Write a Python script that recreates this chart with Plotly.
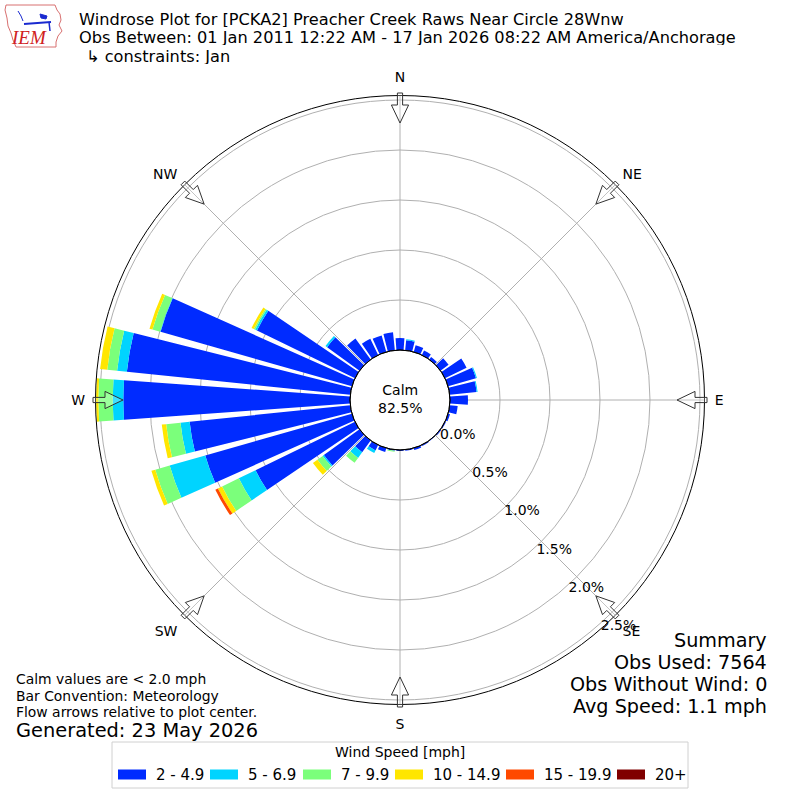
import math
import plotly.graph_objects as go

# ---------------- data ----------------
directions = list(range(0, 360, 10))
speed_labels = ["2 - 4.9", "5 - 6.9", "7 - 9.9", "10 - 14.9", "15 - 19.9", "20+"]
speed_colors = ["#002bff", "#00d4ff", "#7bff7b", "#ffe600", "#ff4900", "#800000"]

freq_2_5 = [0.12, 0.10, 0.07, 0.05, 0.03, 0.10, 0.24, 0.29, 0.27, 0.18, 0.08, 0.02,
            0.01, 0.01, 0.005, 0.01, 0.02, 0.01, 0.01, 0.01, 0.04, 0.06, 0.145, 0.44,
            1.106, 1.525, 1.615, 2.267, 2.246, 1.99, 1.09, 0.40, 0.26, 0.18, 0.17, 0.18]
freq_5_7 = [0, 0.01, 0, 0, 0, 0, 0, 0.01, 0.01, 0, 0, 0,
            0, 0, 0, 0, 0, 0, 0, 0, 0, 0.03, 0.07, 0.015,
            0.186, 0.37, 0.092, 0.106, 0.098, 0.005, 0.02, 0.02, 0, 0, 0, 0]
freq_7_10 = [0, 0, 0, 0, 0, 0, 0, 0, 0, 0, 0, 0,
             0, 0, 0, 0, 0, 0, 0, 0.01, 0, 0, 0.06, 0.065,
             0.186, 0.15, 0.144, 0.144, 0.099, 0.079, 0.015, 0, 0, 0, 0, 0]
freq_10_15 = [0, 0, 0, 0, 0, 0, 0, 0, 0, 0, 0, 0,
              0, 0, 0, 0, 0, 0, 0, 0, 0, 0, 0, 0.055,
              0.046, 0.04, 0.044, 0.023, 0.072, 0.031, 0.025, 0, 0, 0, 0, 0]
freq_15_20 = [0, 0, 0, 0, 0, 0, 0, 0, 0, 0, 0, 0,
              0, 0, 0, 0, 0, 0, 0, 0, 0, 0, 0, 0,
              0.029, 0, 0, 0, 0, 0, 0, 0, 0, 0, 0, 0]
freq_20p = [0] * 36
series = [freq_2_5, freq_5_7, freq_7_10, freq_10_15, freq_15_20, freq_20p]

compass_labels = ["N", "NE", "E", "SE", "S", "SW", "W", "NW"]
compass_angles = [0, 45, 90, 135, 180, 225, 270, 315]
radial_ticks = [0.0, 0.5, 1.0, 1.5, 2.0, 2.5]
radial_ticktext = ["0.0%", "0.5%", "1.0%", "1.5%", "2.0%", "2.5%"]

title_lines = [
    "Windrose Plot for [PCKA2] Preacher Creek Raws Near Circle 28Wnw",
    "Obs Between: 01 Jan 2011 12:22 AM - 17 Jan 2026 08:22 AM America/Anchorage",
    "↳ constraints: Jan",
]
notes_left = ["Calm values are &lt; 2.0 mph", "Bar Convention: Meteorology",
              "Flow arrows relative to plot center."]
generated = "Generated: 23 May 2026"
summary_lines = ["Summary", "Obs Used: 7564", "Obs Without Wind: 0", "Avg Speed: 1.1 mph"]
calm_text = "Calm<br>82.5%"

# ---------------- geometry ----------------
W, H = 800, 800
CX, CY = 400, 400
R_OUT = 304.5
R_HOLE = 50
R_MAX = 2.545
FONT = "DejaVu Sans"


def px(x):
    return x / W


def py(y):
    return 1 - y / H


def pts_path(points, close=True):
    s = "M " + " L ".join(f"{px(x):.5f},{py(y):.5f}" for x, y in points)
    return s + (" Z" if close else "")


fig = go.Figure()
for lab, col, vals in zip(speed_labels, speed_colors, series):
    fig.add_trace(go.Barpolar(
        theta=directions, r=vals, width=[8.2] * len(directions), name=lab,
        marker=dict(color=col, line=dict(width=0)), showlegend=False,
    ))

shapes = []
# calm circle
shapes.append(dict(type="circle", xref="paper", yref="paper",
                   x0=px(CX - R_HOLE), x1=px(CX + R_HOLE),
                   y0=py(CY + R_HOLE), y1=py(CY - R_HOLE),
                   line=dict(color="black", width=1), fillcolor="rgba(0,0,0,0)",
                   layer="above"))

# flow arrows at compass points
arrow_local = [(307, -2.6), (295, -2.6), (295, -8.6), (277, 0), (295, 8.6), (295, 2.6), (307, 2.6)]
for a in compass_angles:
    ar = math.radians(a)
    pts = []
    for r, s in arrow_local:
        X = CX + r * math.sin(ar) + s * math.cos(ar)
        Y = CY - r * math.cos(ar) + s * math.sin(ar)
        pts.append((X, Y))
    shapes.append(dict(type="path", xref="paper", yref="paper", path=pts_path(pts),
                       line=dict(color="#333333", width=1),
                       fillcolor="rgba(255,255,255,0.25)", layer="above"))

# legend box
LX0, LX1, LY0, LY1 = 112, 688, 742, 788
shapes.append(dict(type="rect", xref="paper", yref="paper",
                   x0=px(LX0), x1=px(LX1), y0=py(LY1), y1=py(LY0),
                   line=dict(color="#d0d0d0", width=1), fillcolor="white"))
swatch_x = [118, 210, 303, 395, 506, 617]
annotations = []
for sx, col, lab in zip(swatch_x, speed_colors, speed_labels):
    shapes.append(dict(type="rect", xref="paper", yref="paper",
                       x0=px(sx), x1=px(sx + 28), y0=py(779.5), y1=py(769.5),
                       line=dict(width=0), fillcolor=col))
    annotations.append(dict(x=px(sx + 36), y=py(775), xref="paper", yref="paper",
                            text=lab, showarrow=False, xanchor="left", yanchor="middle",
                            font=dict(family=FONT, size=15, color="black")))
annotations.append(dict(x=px(400), y=py(752), xref="paper", yref="paper",
                        text="Wind Speed [mph]", showarrow=False, xanchor="center",
                        yanchor="middle", font=dict(family=FONT, size=14, color="black")))

# IEM logo (approximate drawing)
iowa = [(6, 5), (55, 5), (57, 10), (60, 14), (61, 20), (59, 25), (62, 31), (58, 36),
        (56, 42), (56, 47), (16, 47), (13, 40), (11, 33), (8, 26), (7, 18), (5, 10)]
shapes.append(dict(type="path", xref="paper", yref="paper", path=pts_path(iowa),
                   line=dict(color="#d87070", width=1), fillcolor="rgba(0,0,0,0)"))
shapes.append(dict(type="path", xref="paper", yref="paper",
                   path=pts_path([(24, 24), (51, 22)], close=False),
                   line=dict(color="#1a2ad0", width=2)))
shapes.append(dict(type="path", xref="paper", yref="paper",
                   path=pts_path([(40, 14), (47, 16), (46, 19), (41, 18)]),
                   line=dict(color="#1a2ad0", width=1), fillcolor="#1a2ad0"))
shapes.append(dict(type="path", xref="paper", yref="paper",
                   path=pts_path([(18, 11), (21, 16), (23, 21)], close=False),
                   line=dict(color="#1a2ad0", width=1)))
shapes.append(dict(type="path", xref="paper", yref="paper",
                   path=pts_path([(49, 22), (50, 31)], close=False),
                   line=dict(color="#1a2ad0", width=1.5)))
annotations.append(dict(x=px(29), y=py(38), xref="paper", yref="paper", text="<i>IEM</i>",
                        showarrow=False, xanchor="center", yanchor="middle",
                        font=dict(family="Liberation Serif", size=19, color="#d02020")))

# titles
for i, (t, yy) in enumerate(zip(title_lines, [19.5, 37, 56])):
    annotations.append(dict(x=px(78 if i < 2 else 85), y=py(yy), xref="paper", yref="paper",
                            text=t, showarrow=False, xanchor="left", yanchor="middle",
                            height=15, borderpad=0,
                            font=dict(family=FONT, size=16.2, color="black")))
for t, yy in zip(notes_left, [679, 696, 712]):
    annotations.append(dict(x=px(14), y=py(yy), xref="paper", yref="paper", text=t,
                            showarrow=False, xanchor="left", yanchor="middle",
                            font=dict(family=FONT, size=13.9, color="black")))
annotations.append(dict(x=px(14), y=py(730), xref="paper", yref="paper", text=generated,
                        showarrow=False, xanchor="left", yanchor="middle",
                        font=dict(family=FONT, size=19.4, color="black")))
for t, yy in zip(summary_lines, [640, 662, 684, 706]):
    annotations.append(dict(x=px(769), y=py(yy), xref="paper", yref="paper", text=t,
                            showarrow=False, xanchor="right", yanchor="middle",
                            font=dict(family=FONT, size=19.2, color="black")))
annotations.append(dict(x=px(CX), y=py(CY - 1), xref="paper", yref="paper", text=calm_text,
                        showarrow=False, xanchor="center", yanchor="middle",
                        font=dict(family=FONT, size=14, color="black")))

fig.update_layout(
    width=W, height=H,
    margin=dict(l=0, r=0, t=0, b=0),
    paper_bgcolor="white",
    showlegend=False,
    font=dict(family=FONT, size=14, color="black"),
    polar=dict(
        domain=dict(x=[px(CX - R_OUT), px(CX + R_OUT)], y=[py(CY + R_OUT), py(CY - R_OUT)]),
        hole=R_HOLE / R_OUT,
        bgcolor="white",
        barmode="stack",
        angularaxis=dict(rotation=90, direction="clockwise", tickmode="array",
                         tickvals=compass_angles, ticktext=compass_labels,
                         showline=True, linecolor="black", linewidth=1,
                         gridcolor="#b0b0b0", gridwidth=0.8,
                         ticks="outside", ticklen=7, tickcolor="rgba(0,0,0,0)",
                         tickfont=dict(family=FONT, size=14, color="black")),
        radialaxis=dict(range=[0, R_MAX], tickmode="array", tickvals=radial_ticks,
                        ticktext=radial_ticktext, angle=-50,
                        side="counterclockwise", tickangle=-50,
                        showline=False, ticks="", gridcolor="#b0b0b0", gridwidth=0.8,
                        tickfont=dict(family=FONT, size=14, color="black")),
    ),
    shapes=shapes,
    annotations=annotations,
)

fig.write_html("out.html", config={"displayModeBar": False},
               post_script="document.body.style.margin='0px';")
